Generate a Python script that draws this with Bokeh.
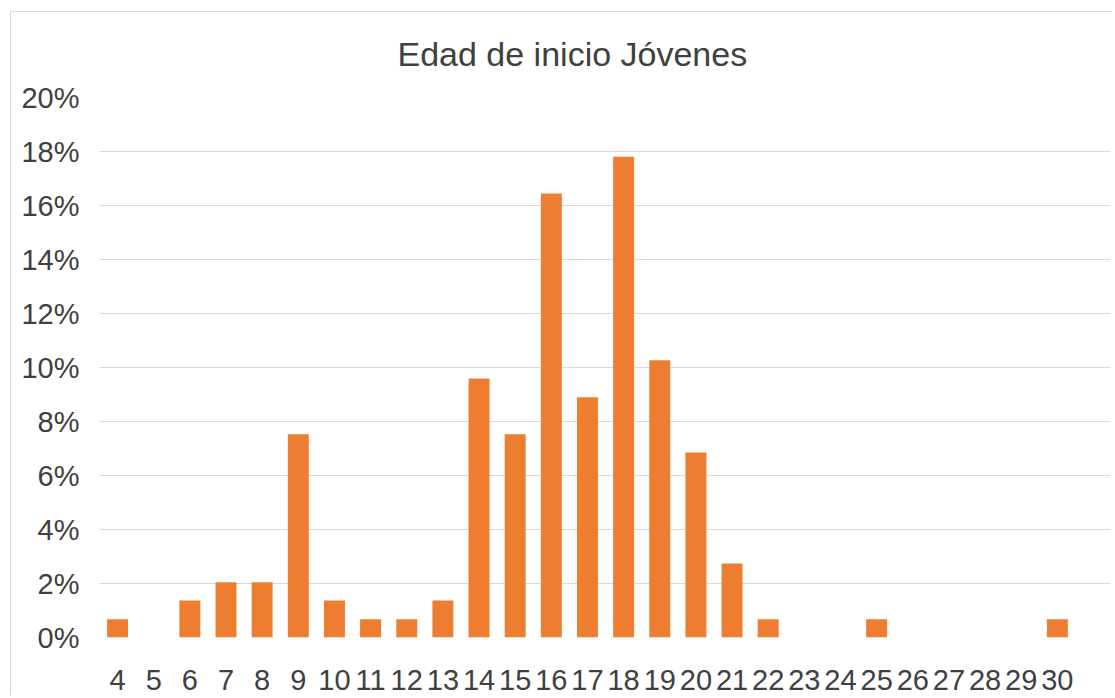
from bokeh.plotting import figure
from bokeh.models import Range1d, FixedTicker
from bokeh.embed import file_html
from bokeh.resources import INLINE

title_text = "Edad de inicio Jóvenes"
ages = ["4", "5", "6", "7", "8", "9", "10", "11", "12", "13", "14", "15", "16",
        "17", "18", "19", "20", "21", "22", "23", "24", "25", "26", "27", "28", "29", "30"]
percent = [0.68, 0.0, 1.37, 2.05, 2.05, 7.53, 1.37, 0.68, 0.68, 1.37, 9.59, 7.53, 16.44,
           8.90, 17.81, 10.27, 6.85, 2.74, 0.68, 0.0, 0.0, 0.68, 0.0, 0.0, 0.0, 0.0, 0.68]
y_ticks = [0, 2, 4, 6, 8, 10, 12, 14, 16, 18, 20]

FONT = "Liberation Sans"
TXT = "#404040"

xs = list(range(len(ages)))

p = figure(width=1102, height=684, output_backend="svg", toolbar_location=None,
           x_range=Range1d(-0.5, 27.47), y_range=Range1d(0, 20),
           min_border_left=88, min_border_right=3, min_border_top=85, min_border_bottom=59)
p.styles = {"margin-left": "10px", "margin-top": "11px",
            "border-left": "1px solid #d9d9d9", "border-top": "1px solid #d9d9d9"}
p.outline_line_color = None
p.background_fill_color = "white"
p.border_fill_color = "white"

p.title.text = title_text
p.title.align = "left"
p.title.offset = 298
p.title.vertical_align = "top"
p.title.standoff = 45
p.title.text_font = FONT
p.title.text_font_size = "34px"
p.title.text_font_style = "normal"
p.title.text_color = TXT

p.vbar(x=xs, top=percent, width=0.58, bottom=0, fill_color="#ED7D31", line_color=None)

# axes
p.xaxis.ticker = FixedTicker(ticks=xs)
p.xaxis.major_label_overrides = {i: a for i, a in enumerate(ages)}
p.xaxis.axis_line_color = None
p.xaxis.major_tick_line_color = None
p.xaxis.minor_tick_line_color = None
p.xaxis.major_label_text_font = FONT
p.xaxis.major_label_text_font_size = "29px"
p.xaxis.major_label_text_color = TXT
p.xaxis.major_label_standoff = 26

p.yaxis.ticker = FixedTicker(ticks=y_ticks)
p.yaxis.major_label_overrides = {t: f"{t}%" for t in y_ticks}
p.yaxis.axis_line_color = None
p.yaxis.major_tick_line_color = None
p.yaxis.minor_tick_line_color = None
p.yaxis.major_label_text_font = FONT
p.yaxis.major_label_text_font_size = "29px"
p.yaxis.major_label_text_color = TXT
p.yaxis.major_label_standoff = 14

p.xgrid.grid_line_color = None
p.ygrid.grid_line_color = "#d9d9d9"
p.ygrid.grid_line_width = 1.2

open("out.html", "w").write(file_html(p, INLINE))
